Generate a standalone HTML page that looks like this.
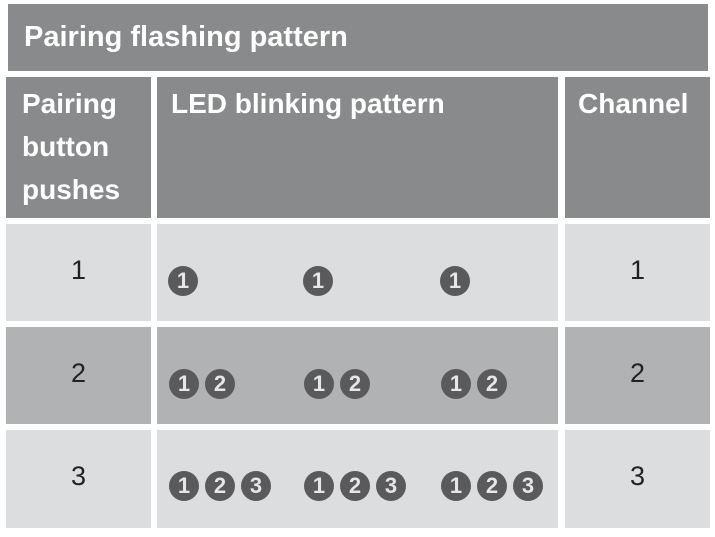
<!DOCTYPE html>
<html><head><style>
body{margin:0;width:715px;height:537px;background:#fff;position:relative;overflow:hidden;font-family:"Liberation Sans","DejaVu Sans",sans-serif}
.b{position:absolute}
.h{background:#898a8c;color:#fff;font-weight:bold;font-size:28px;line-height:43px;padding:11px 0 0 16px;box-sizing:border-box;white-space:nowrap}
.l{background:#dcdddf}.d{background:#b1b2b4}
.n{font-size:27px;color:#222;text-align:center;box-sizing:border-box;padding-top:31px}
.c{position:absolute;width:30px;height:30px;border-radius:50%;background:#5a5a5c;color:#e6e6e6;font-weight:bold;font-size:22px;line-height:30px;text-align:center}
</style></head><body>
<div class="b h" style="left:8px;top:4px;width:700px;height:67px;padding-top:13px;line-height:40px;font-size:29px">Pairing flashing pattern</div>
<div class="b h" style="left:6px;top:77px;width:145px;height:141px;line-height:43px;padding-top:5px">Pairing<br>button<br>pushes</div>
<div class="b h" style="left:157px;top:77px;width:401px;height:141px;padding-top:5px;padding-left:14px">LED blinking pattern</div>
<div class="b h" style="left:565px;top:77px;width:145px;height:141px;padding:5px 0 0 13px">Channel</div>

<div class="b l n" style="left:6px;top:224px;width:145px;height:97px">1</div>
<div class="b l" style="left:157px;top:224px;width:401px;height:97px"></div>
<div class="b l n" style="left:565px;top:224px;width:145px;height:97px">1</div>

<div class="b d n" style="left:6px;top:327px;width:145px;height:97px">2</div>
<div class="b d" style="left:157px;top:327px;width:401px;height:97px"></div>
<div class="b d n" style="left:565px;top:327px;width:145px;height:97px">2</div>

<div class="b l n" style="left:6px;top:430px;width:145px;height:98px">3</div>
<div class="b l" style="left:157px;top:430px;width:401px;height:98px"></div>
<div class="b l n" style="left:565px;top:430px;width:145px;height:98px">3</div>

<div class="c" style="left:168px;top:266px">1</div>
<div class="c" style="left:303px;top:266px">1</div>
<div class="c" style="left:440px;top:266px">1</div>

<div class="c" style="left:169px;top:369px">1</div>
<div class="c" style="left:205px;top:369px">2</div>
<div class="c" style="left:304px;top:369px">1</div>
<div class="c" style="left:340px;top:369px">2</div>
<div class="c" style="left:441px;top:369px">1</div>
<div class="c" style="left:477px;top:369px">2</div>

<div class="c" style="left:169px;top:471px">1</div>
<div class="c" style="left:205px;top:471px">2</div>
<div class="c" style="left:241px;top:471px">3</div>
<div class="c" style="left:304px;top:471px">1</div>
<div class="c" style="left:340px;top:471px">2</div>
<div class="c" style="left:376px;top:471px">3</div>
<div class="c" style="left:441px;top:471px">1</div>
<div class="c" style="left:477px;top:471px">2</div>
<div class="c" style="left:513px;top:471px">3</div>
</body></html>
